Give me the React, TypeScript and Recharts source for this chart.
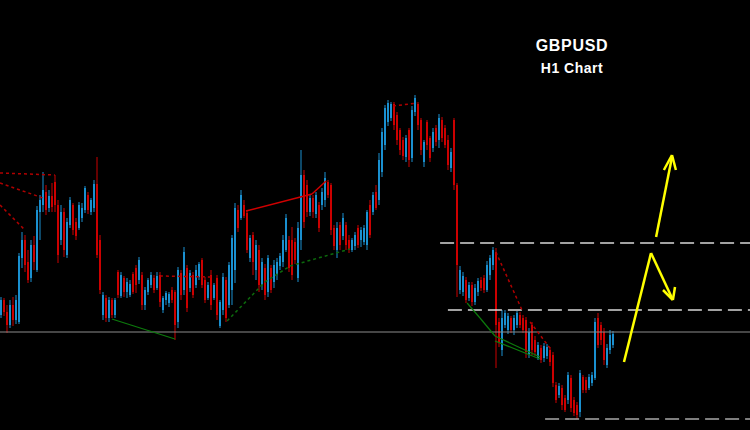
import { ComposedChart, Bar, XAxis, YAxis, ReferenceLine } from 'recharts'

// GBPUSD H1 candles
const open = [
  1.3015, 1.3030, 1.3018, 1.3005, 1.3025, 1.3010, 1.3008, 1.3072, 1.3090, 1.3068,
  1.3052, 1.3085, 1.3060, 1.3118, 1.3125, 1.3138, 1.3122, 1.3134, 1.3148, 1.3125,
  1.3090, 1.3118, 1.3075, 1.3105, 1.3125, 1.3108, 1.3102, 1.3112, 1.3120, 1.3135,
  1.3118, 1.3122, 1.3146, 1.3090, 1.3015, 1.3032, 1.3012, 1.3030, 1.3015, 1.3058,
  1.3034, 1.3052, 1.3038, 1.3035, 1.3056, 1.3062, 1.3050, 1.3055, 1.3025, 1.3038,
  1.3045, 1.3052, 1.3042, 1.3055, 1.3020, 1.3030, 1.3027, 1.3040, 1.3038, 1.3008,
  1.3057, 1.3040, 1.3062, 1.3042, 1.3055, 1.3045, 1.3053, 1.3070, 1.3050, 1.3032,
  1.3055, 1.3032, 1.3052, 1.3004, 1.3020, 1.3050, 1.3025, 1.3040, 1.3060, 1.3120,
  1.3112, 1.3125, 1.3117, 1.3072, 1.3095, 1.3060, 1.3080, 1.3045, 1.3062, 1.3038,
  1.3062, 1.3048, 1.3055, 1.3064, 1.3068, 1.3080, 1.3090, 1.3090, 1.3088, 1.3052,
  1.3090, 1.3155, 1.3145, 1.3118, 1.3132, 1.3116, 1.3125, 1.3125, 1.3130, 1.3148,
  1.3145, 1.3102, 1.3080, 1.3105, 1.3094, 1.3105, 1.3090, 1.3080, 1.3084, 1.3102,
  1.3090, 1.3088, 1.3085, 1.3125, 1.3118, 1.3138, 1.3130, 1.3158, 1.3185, 1.3208,
  1.3212, 1.3226, 1.3215, 1.3200, 1.3190, 1.3173, 1.3200, 1.3172, 1.3218, 1.3226,
  1.3210, 1.3168, 1.3208, 1.3192, 1.3182, 1.3202, 1.3190, 1.3210, 1.3202, 1.3190,
  1.3162, 1.3210, 1.3145, 1.3040, 1.3038, 1.3050, 1.3032, 1.3045, 1.3028, 1.3038,
  1.3050, 1.3052, 1.3040, 1.3055, 1.3065, 1.3078, 1.3008, 1.2980, 1.3005, 1.3000,
  1.3012, 1.3000, 1.3005, 1.3015, 1.3012, 1.3010, 1.2975, 1.3005, 1.2990, 1.2972,
  1.2982, 1.2972, 1.2974, 1.2980, 1.2975, 1.2945, 1.2935, 1.2942, 1.2932, 1.2930,
  1.2952, 1.2930, 1.2925, 1.2918, 1.2953, 1.2950, 1.2942, 1.2947, 1.2952, 1.3012,
  1.3005, 1.2998, 1.2965, 1.2980, 1.2985,
]

const high = [
  1.3033, 1.3032, 1.3025, 1.3030, 1.3033, 1.3035, 1.3077, 1.3098, 1.3095, 1.3080,
  1.3090, 1.3094, 1.3124, 1.3135, 1.3158, 1.3145, 1.3140, 1.3147, 1.3155, 1.3130,
  1.3125, 1.3122, 1.3112, 1.3133, 1.3127, 1.3112, 1.3128, 1.3127, 1.3144, 1.3138,
  1.3132, 1.3150, 1.3173, 1.3095, 1.3038, 1.3035, 1.3033, 1.3032, 1.3032, 1.3060,
  1.3058, 1.3054, 1.3052, 1.3050, 1.3058, 1.3065, 1.3073, 1.3058, 1.3043, 1.3052,
  1.3058, 1.3055, 1.3058, 1.3058, 1.3034, 1.3039, 1.3038, 1.3043, 1.3040, 1.3063,
  1.3060, 1.3083, 1.3065, 1.3060, 1.3058, 1.3065, 1.3068, 1.3072, 1.3053, 1.3048,
  1.3060, 1.3047, 1.3055, 1.3030, 1.3057, 1.3053, 1.3068, 1.3095, 1.3127, 1.3125,
  1.3140, 1.3130, 1.3120, 1.3095, 1.3098, 1.3090, 1.3085, 1.3072, 1.3066, 1.3075,
  1.3065, 1.3070, 1.3072, 1.3077, 1.3095, 1.3116, 1.3094, 1.3103, 1.3092, 1.3108,
  1.3180, 1.3160, 1.3150, 1.3135, 1.3135, 1.3138, 1.3128, 1.3142, 1.3158, 1.3150,
  1.3147, 1.3105, 1.3108, 1.3108, 1.3117, 1.3108, 1.3095, 1.3092, 1.3098, 1.3105,
  1.3103, 1.3105, 1.3120, 1.3130, 1.3138, 1.3145, 1.3177, 1.3202, 1.3225, 1.3230,
  1.3228, 1.3228, 1.3218, 1.3202, 1.3193, 1.3195, 1.3202, 1.3224, 1.3235, 1.3228,
  1.3212, 1.3190, 1.3210, 1.3194, 1.3202, 1.3205, 1.3216, 1.3213, 1.3205, 1.3195,
  1.3182, 1.3212, 1.3147, 1.3064, 1.3058, 1.3053, 1.3048, 1.3048, 1.3046, 1.3052,
  1.3053, 1.3055, 1.3069, 1.3075, 1.3083, 1.3082, 1.3012, 1.3020, 1.3020, 1.3017,
  1.3014, 1.3015, 1.3019, 1.3018, 1.3015, 1.3013, 1.3002, 1.3008, 1.2994, 1.2988,
  1.2985, 1.2987, 1.2986, 1.2983, 1.2978, 1.2948, 1.2947, 1.2945, 1.2935, 1.2958,
  1.2955, 1.2933, 1.2928, 1.2960, 1.2955, 1.2953, 1.2956, 1.2958, 1.3012, 1.3017,
  1.3008, 1.3002, 1.2986, 1.3000, 1.2999,
]

const low = [
  1.3012, 1.3014, 1.2997, 1.3002, 1.3004, 1.3006, 1.3006, 1.3062, 1.3058, 1.3047,
  1.3048, 1.3060, 1.3058, 1.3090, 1.3118, 1.3115, 1.3118, 1.3118, 1.3118, 1.3067,
  1.3085, 1.3073, 1.3072, 1.3102, 1.3095, 1.3090, 1.3100, 1.3108, 1.3117, 1.3116,
  1.3115, 1.3118, 1.3072, 1.3036, 1.3010, 1.3008, 1.3008, 1.3012, 1.3012, 1.3032,
  1.3032, 1.3033, 1.3032, 1.3033, 1.3036, 1.3037, 1.3046, 1.3020, 1.3020, 1.3035,
  1.3042, 1.3037, 1.3040, 1.3023, 1.3017, 1.3025, 1.3023, 1.3027, 1.2990, 1.3002,
  1.3030, 1.3035, 1.3018, 1.3038, 1.3032, 1.3042, 1.3050, 1.3042, 1.3027, 1.3030,
  1.3020, 1.3030, 1.3010, 1.3002, 1.3015, 1.3008, 1.3022, 1.3025, 1.3047, 1.3098,
  1.3110, 1.3112, 1.3077, 1.3068, 1.3055, 1.3050, 1.3038, 1.3040, 1.3030, 1.3033,
  1.3037, 1.3042, 1.3050, 1.3060, 1.3063, 1.3078, 1.3058, 1.3050, 1.3066, 1.3048,
  1.3080, 1.3102, 1.3113, 1.3114, 1.3112, 1.3112, 1.3098, 1.3120, 1.3123, 1.3132,
  1.3095, 1.3080, 1.3072, 1.3080, 1.3090, 1.3080, 1.3077, 1.3078, 1.3080, 1.3082,
  1.3083, 1.3085, 1.3080, 1.3092, 1.3115, 1.3120, 1.3125, 1.3153, 1.3180, 1.3204,
  1.3209, 1.3200, 1.3185, 1.3175, 1.3170, 1.3168, 1.3163, 1.3168, 1.3214, 1.3200,
  1.3175, 1.3163, 1.3180, 1.3168, 1.3178, 1.3184, 1.3182, 1.3188, 1.3182, 1.3160,
  1.3158, 1.3140, 1.3033, 1.3036, 1.3034, 1.3027, 1.3029, 1.3024, 1.3025, 1.3034,
  1.3039, 1.3037, 1.3038, 1.3050, 1.3060, 1.2962, 1.2983, 1.2974, 1.3002, 1.2996,
  1.2997, 1.2995, 1.3002, 1.3002, 1.2997, 1.2972, 1.2972, 1.2975, 1.2974, 1.2970,
  1.2967, 1.2968, 1.2971, 1.2964, 1.2943, 1.2927, 1.2932, 1.2920, 1.2918, 1.2926,
  1.2918, 1.2914, 1.2911, 1.2913, 1.2937, 1.2937, 1.2940, 1.2944, 1.2950, 1.2982,
  1.2985, 1.2965, 1.2962, 1.2976, 1.2982,
]

const close = [
  1.3030, 1.3018, 1.3005, 1.3025, 1.3010, 1.3030, 1.3074, 1.3090, 1.3065, 1.3050,
  1.3085, 1.3068, 1.3120, 1.3130, 1.3140, 1.3120, 1.3134, 1.3123, 1.3125, 1.3075,
  1.3118, 1.3080, 1.3108, 1.3130, 1.3100, 1.3094, 1.3125, 1.3122, 1.3142, 1.3120,
  1.3130, 1.3146, 1.3075, 1.3040, 1.3035, 1.3012, 1.3030, 1.3015, 1.3030, 1.3035,
  1.3055, 1.3038, 1.3048, 1.3046, 1.3038, 1.3045, 1.3070, 1.3025, 1.3040, 1.3050,
  1.3055, 1.3040, 1.3054, 1.3028, 1.3032, 1.3037, 1.3036, 1.3030, 1.3005, 1.3060,
  1.3035, 1.3078, 1.3022, 1.3057, 1.3035, 1.3060, 1.3066, 1.3045, 1.3030, 1.3045,
  1.3025, 1.3045, 1.3015, 1.3028, 1.3053, 1.3012, 1.3065, 1.3092, 1.3122, 1.3102,
  1.3135, 1.3114, 1.3080, 1.3092, 1.3068, 1.3085, 1.3045, 1.3068, 1.3035, 1.3072,
  1.3040, 1.3065, 1.3068, 1.3074, 1.3090, 1.3112, 1.3062, 1.3055, 1.3070, 1.3102,
  1.3155, 1.3108, 1.3118, 1.3132, 1.3118, 1.3135, 1.3102, 1.3138, 1.3152, 1.3135,
  1.3100, 1.3084, 1.3102, 1.3085, 1.3112, 1.3085, 1.3080, 1.3090, 1.3095, 1.3085,
  1.3100, 1.3102, 1.3118, 1.3095, 1.3135, 1.3122, 1.3170, 1.3198, 1.3222, 1.3227,
  1.3226, 1.3205, 1.3190, 1.3180, 1.3174, 1.3192, 1.3170, 1.3220, 1.3232, 1.3205,
  1.3180, 1.3188, 1.3185, 1.3172, 1.3198, 1.3188, 1.3212, 1.3192, 1.3185, 1.3165,
  1.3178, 1.3145, 1.3065, 1.3060, 1.3054, 1.3030, 1.3045, 1.3028, 1.3042, 1.3049,
  1.3042, 1.3040, 1.3065, 1.3072, 1.3080, 1.3005, 1.2988, 1.3012, 1.3017, 1.3014,
  1.3000, 1.3012, 1.3017, 1.3005, 1.3000, 1.2978, 1.2998, 1.2980, 1.2978, 1.2985,
  1.2970, 1.2984, 1.2983, 1.2968, 1.2947, 1.2930, 1.2944, 1.2925, 1.2920, 1.2955,
  1.2922, 1.2917, 1.2915, 1.2957, 1.2940, 1.2940, 1.2953, 1.2955, 1.3008, 1.2985,
  1.2990, 1.2970, 1.2982, 1.2995, 1.2996,
]

// drawn annotations: [bar index, price] points
type Pt = [number, number]
const redDotted: Pt[][] = [
  [[-0.5, 1.3157], [17.8, 1.3155]],
  [[-0.5, 1.3147], [13.8, 1.3132]],
  [[-0.5, 1.3125], [7.8, 1.31]],
  [[52.8, 1.3054], [70.2, 1.3053]],
  [[130.5, 1.3224], [138.5, 1.3227]],
  [[164.8, 1.3078], [173.8, 1.3018]],
  [[176.2, 1.3008], [182.8, 1.2982]],
]
const redSolid: Pt[] = [[81.5, 1.3119], [103.5, 1.3136], [108.2, 1.3149]]
const greenSolid: Pt[][] = [
  [[36.8, 1.3011], [57.8, 1.2991]],
  [[155.2, 1.3027], [159.5, 1.3012], [164.5, 1.2994], [179.5, 1.2973]],
  [[164.5, 1.2989], [179.5, 1.2971]],
]
const greenDotted: Pt[] = [[75.2, 1.3009], [87.8, 1.3048], [96.2, 1.3064], [116.2, 1.3081]]

const levels: Pt[] = [[146.2, 1.3087], [148.8, 1.302], [181.2, 1.2911]] // [start index, price]
const baseLine = 1.2998

const yellow: Pt[][] = [
  [[207.5, 1.2968], [216.5, 1.3077], [223.5, 1.3032]],
  [[220.5, 1.304], [223.8, 1.303], [224.5, 1.3043]],
  [[218.2, 1.3093], [223.5, 1.3173]],
  [[220.8, 1.316], [223.5, 1.3175], [224.8, 1.316]],
]

const BULL = '#1a90d0'
const BEAR = '#cc0000'

const data = open.map((o, i) => ({ i, open: o, high: high[i], low: low[i], close: close[i] }))

function Candle(props: any) {
  const { x, y, width, height, payload } = props
  if (!payload || y == null) return null
  const top = Math.min(y, y + height)
  const h = Math.abs(height)
  const k = h / (payload.high - payload.low)
  const yO = top + (payload.high - payload.open) * k
  const yC = top + (payload.high - payload.close) * k
  const color = payload.close >= payload.open ? BULL : BEAR
  const cx = x + width / 2
  return (
    <g>
      <line x1={cx} x2={cx} y1={top} y2={top + h} stroke={color} strokeWidth={1} />
      <rect x={x} y={Math.min(yO, yC)} width={width} height={Math.max(1, Math.abs(yC - yO))} fill={color} />
    </g>
  )
}

function segs(pts: Pt[], key: string, stroke: string, width: number, dash?: string) {
  return pts.slice(1).map((p, j) => (
    <ReferenceLine
      key={key + j}
      segment={[{ x: pts[j][0], y: pts[j][1] }, { x: p[0], y: p[1] }]}
      stroke={stroke}
      strokeWidth={width}
      strokeDasharray={dash}
      ifOverflow="visible"
    />
  ))
}

export default function App() {
  return (
    <div style={{ position: 'relative', width: 750, height: 430, background: '#000' }}>
      <style>{'body{margin:0;background:#000}'}</style>
      <ComposedChart width={750} height={430} data={data} margin={{ top: 0, right: 0, bottom: 0, left: 0 }}>
        <XAxis dataKey="i" type="number" domain={[-0.5, 249.5]} allowDataOverflow hide />
        <YAxis type="number" domain={[1.29, 1.333]} allowDataOverflow hide />
        <ReferenceLine y={baseLine} stroke="#8c8c8c" strokeWidth={1} />
        {levels.map(([x0, p], j) => (
          <ReferenceLine
            key={'lv' + j}
            segment={[{ x: x0, y: p }, { x: 249.5, y: p }]}
            stroke={j === 2 ? '#a8a8a8' : '#d8d8d8'}
            strokeWidth={1.5}
            strokeDasharray="14 6"
            ifOverflow="visible"
          />
        ))}
        {redDotted.map((s, j) => segs(s, 'rd' + j, '#b00000', 1.5, '3 3'))}
        {segs(redSolid, 'rs', '#d00000', 1.5)}
        {greenSolid.map((s, j) => segs(s, 'gs' + j, '#0c7a0c', 1.2))}
        {segs(greenDotted, 'gd', '#0c6a0c', 1.5, '3 3')}
        <Bar dataKey={(d: any) => [d.low, d.high]} barSize={2} shape={(p: any) => <Candle {...p} />} isAnimationActive={false} />
        {yellow.map((s, j) => segs(s, 'y' + j, '#ffff00', 2.5))}
      </ComposedChart>
      <div style={{ position: 'absolute', left: 512, width: 120, top: 38, textAlign: 'center', color: '#fff', font: 'bold 16px/16px "Liberation Sans", Arial, sans-serif', letterSpacing: 0.7 }}>
        GBPUSD
      </div>
      <div style={{ position: 'absolute', left: 512, width: 120, top: 61, textAlign: 'center', color: '#fff', font: 'bold 14px/14px "Liberation Sans", Arial, sans-serif', letterSpacing: 0.5 }}>
        H1 Chart
      </div>
    </div>
  )
}
